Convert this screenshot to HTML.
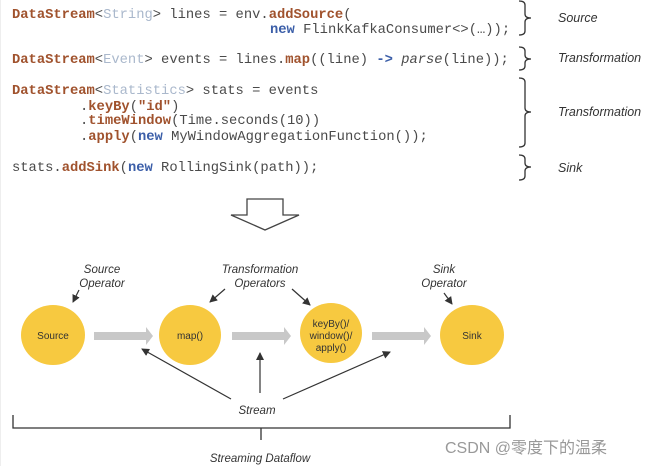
<!DOCTYPE html>
<html><head><meta charset="utf-8"><style>
html,body{margin:0;padding:0;background:#fff;width:645px;height:466px;overflow:hidden}
svg{display:block}
.c{font-family:"Liberation Mono",monospace;font-size:13.8px;fill:#4a4a4a}
.k{fill:#a0522d;font-weight:bold}
.t{fill:#aab8cc}
.n{fill:#3b5ea8;font-weight:bold}
.l{font-family:"Liberation Sans",sans-serif;font-style:italic;font-size:11.5px;fill:#333}
.r{font-family:"Liberation Sans",sans-serif;font-style:italic;font-size:12.5px;fill:#333}
.o{font-family:"Liberation Sans",sans-serif;font-size:10px;fill:#333}
</style></head><body>
<svg width="645" height="466" viewBox="0 0 645 466" xmlns="http://www.w3.org/2000/svg">
<defs><marker id="a" markerWidth="8" markerHeight="8" refX="7" refY="4" orient="auto" markerUnits="userSpaceOnUse"><path d="M0,0 L8,4 L0,8 z" fill="#333"/></marker></defs>
<line x1="0" y1="0" x2="0" y2="466" stroke="#ddd"/>
<text class="c" x="12" y="18"><tspan class="k">DataStream</tspan>&lt;<tspan class="t">String</tspan>&gt; lines = env.<tspan class="k">addSource</tspan>(</text>
<text class="c" x="270" y="33"><tspan class="n">new</tspan> FlinkKafkaConsumer&lt;&gt;(…));</text>
<text class="c" x="12" y="63"><tspan class="k">DataStream</tspan>&lt;<tspan class="t">Event</tspan>&gt; events = lines.<tspan class="k">map</tspan>((line) <tspan class="n">-&gt;</tspan> <tspan font-style="italic">parse</tspan>(line));</text>
<text class="c" x="12" y="94"><tspan class="k">DataStream</tspan>&lt;<tspan class="t">Statistics</tspan>&gt; stats = events</text>
<text class="c" x="80" y="110">.<tspan class="k">keyBy</tspan>(<tspan class="k">"id"</tspan>)</text>
<text class="c" x="80" y="124">.<tspan class="k">timeWindow</tspan>(Time.seconds(10))</text>
<text class="c" x="80" y="140">.<tspan class="k">apply</tspan>(<tspan class="n">new</tspan> MyWindowAggregationFunction());</text>
<text class="c" x="12" y="171">stats.<tspan class="k">addSink</tspan>(<tspan class="n">new</tspan> RollingSink(path));</text>
<g fill="none" stroke="#333" stroke-width="1.3">
<path d="M519,1 Q525,1 525,5 L525,14 Q525,18 531,18 Q525,18 525,22 L525,31 Q525,35 519,35"/>
<path d="M519,47 Q525,47 525,51 L525,55 Q525,59 531,59 Q525,59 525,63 L525,66 Q525,70 519,70"/>
<path d="M519,78 Q525,78 525,82 L525,108 Q525,112 531,112 Q525,112 525,116 L525,143 Q525,147 519,147"/>
<path d="M519,155 Q525,155 525,159 L525,163 Q525,167 531,167 Q525,167 525,171 L525,176 Q525,180 519,180"/>
</g>
<text class="r" x="558" y="22">Source</text>
<text class="r" x="558" y="62">Transformation</text>
<text class="r" x="558" y="116">Transformation</text>
<text class="r" x="558" y="172">Sink</text>
<path d="M247,199 L283,199 L283,215 L299,215 L265,230 L231,215 L247,215 Z" fill="#fff" stroke="#444" stroke-width="1.3"/>
<g fill="#f7c940">
<ellipse cx="53" cy="335" rx="32" ry="30"/>
<ellipse cx="190" cy="335" rx="31" ry="30"/>
<ellipse cx="331" cy="333" rx="31" ry="30"/>
<ellipse cx="472" cy="335" rx="32" ry="30"/>
</g>
<g fill="#c8c8c8">
<path d="M94,332 L146,332 L146,327 L153,336 L146,345 L146,340 L94,340 Z"/>
<path d="M232,332 L284,332 L284,327 L291,336 L284,345 L284,340 L232,340 Z"/>
<path d="M372,332 L424,332 L424,327 L431,336 L424,345 L424,340 L372,340 Z"/>
</g>
<text class="o" x="53" y="339" text-anchor="middle">Source</text>
<text class="o" x="190" y="339" text-anchor="middle">map()</text>
<text class="o" x="331" y="327" text-anchor="middle">keyBy()/</text>
<text class="o" x="331" y="339" text-anchor="middle">window()/</text>
<text class="o" x="331" y="351" text-anchor="middle">apply()</text>
<text class="o" x="472" y="339" text-anchor="middle">Sink</text>
<text class="l" x="102" y="273" text-anchor="middle">Source</text>
<text class="l" x="102" y="287" text-anchor="middle">Operator</text>
<text class="l" x="260" y="273" text-anchor="middle">Transformation</text>
<text class="l" x="260" y="287" text-anchor="middle">Operators</text>
<text class="l" x="444" y="273" text-anchor="middle">Sink</text>
<text class="l" x="444" y="287" text-anchor="middle">Operator</text>
<text class="l" x="257" y="414" text-anchor="middle">Stream</text>
<text class="l" x="260" y="462" text-anchor="middle">Streaming Dataflow</text>
<g stroke="#333" stroke-width="1.2" marker-end="url(#a)">
<line x1="79" y1="290" x2="73" y2="302"/>
<line x1="225" y1="289" x2="210" y2="302"/>
<line x1="292" y1="289" x2="310" y2="305"/>
<line x1="444" y1="293" x2="452" y2="304"/>
<line x1="231" y1="399" x2="142" y2="349"/>
<line x1="260" y1="393" x2="260" y2="353"/>
<line x1="283" y1="399" x2="390" y2="352"/>
</g>
<path d="M13,415 L13,428 L510,428 L510,415 M261,428 L261,440" fill="none" stroke="#333" stroke-width="1.3"/>
<text x="445" y="453" font-family="Liberation Sans,'Noto Sans CJK SC',sans-serif" font-size="16" fill="#999">CSDN @零度下的温柔</text>
</svg>
</body></html>
